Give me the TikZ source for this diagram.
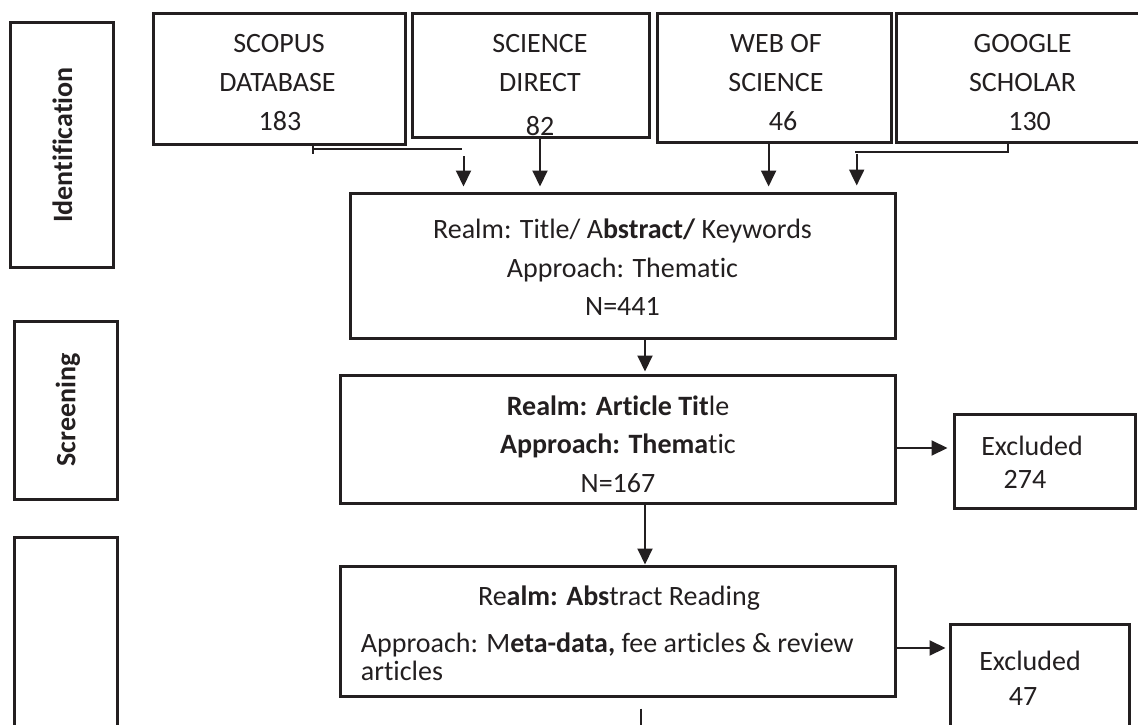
\documentclass[tikz,border=0pt]{standalone}
\usepackage{fontspec}
\setmainfont[Ligatures={NoCommon}]{Carlito}
\usetikzlibrary{arrows.meta}
\definecolor{ink}{RGB}{35,31,32}
\begin{document}
\begin{tikzpicture}[x=1pt,y=-1pt,
  box/.style={draw=ink, line width=3pt, inner sep=0pt},
  txt/.style={anchor=base, inner sep=0pt, text=ink, font=\fontsize{28}{38}\selectfont},
  txtl/.style={anchor=base west, inner sep=0pt, text=ink, font=\fontsize{28}{38}\selectfont},
  lbl/.style={rotate=90, inner sep=0pt, text=ink, font=\fontsize{28}{34}\selectfont\bfseries},
  con/.style={draw=ink, line width=2pt},
  arr/.style={draw=ink, line width=2pt, -{Triangle[width=15pt,length=16pt]}}]
\useasboundingbox (0,0) rectangle (1138,725);
\clip (0,0) rectangle (1138,725);
\fill[white] (0,0) rectangle (1138,725);

% ---- text ----
\node[lbl] (tIdent) at (62.5,145) {Identification};
\node[lbl] (tScreen) at (68,410) {Screening};

\node[txt] (t11) at (279,53) {SCOPUS};
\node[txt] (t12) at (277.5,92) {DATABASE};
\node[txt] (t13) at (280,130) {183};

\node[txt] (t21) at (540,53) {SCIENCE};
\node[txt] (t22) at (540,92) {DIRECT};
\node[txt] (t23) at (540,135) {82};

\node[txt] (t31) at (776,53) {WEB OF};
\node[txt] (t32) at (776,92) {SCIENCE};
\node[txt] (t33) at (783,130) {46};

\node[txt] (t41) at (1022.6,53) {GOOGLE};
\node[txt] (t42) at (1022.6,92) {SCHOLAR};
\node[txt] (t43) at (1029.6,130) {130};

\node[txt] (b1l1) at (622.5,238) {Realm: Title/ A\textbf{bstract/} Keywords};
\node[txt] (b1l2) at (622.5,277) {Approach: Thematic};
\node[txt] (b1l3) at (622.5,315) {N=441};

\node[txt] (b2l1) at (618,415) {\textbf{Realm: Article Tit}le};
\node[txt] (b2l2) at (618,453) {\textbf{Approach: Thema}tic};
\node[txt] (b2l3) at (618,492) {N=167};

\node[txt] (b3l1) at (619,605) {Re\textbf{alm: Abs}tract Reading};
\node[txtl] (b3l2) at (360.7,652) {Approach: M\textbf{eta-data,} fee articles \& review};
\node[txtl] (b3l3) at (360.7,680) {articles};

\node[txt] (e1l1) at (1032,455) {Excluded};
\node[txt] (e1l2) at (1025,488) {274};
\node[txt] (e2l1) at (1030,670) {Excluded};
\node[txt] (e2l2) at (1023,705) {47};

% ---- boxes ----
\node[box, minimum width=103pt, minimum height=244pt] (ident) at (61.5,145) {};
\node[box, minimum width=103pt, minimum height=178pt] (screen) at (65.5,410) {};
\node[box, minimum width=103pt, minimum height=223pt] (elig) at (65.5,648.5) {};

\node[box, minimum width=252pt, minimum height=130pt] (scopus) at (279,79) {};
\node[box, minimum width=237pt, minimum height=123pt] (sd) at (531,75.5) {};
\node[box, minimum width=234pt, minimum height=128pt] (wos) at (774.7,78) {};
\node[box, minimum width=252pt, minimum height=128pt] (gs) at (1022.5,78) {};

\node[box, minimum width=545pt, minimum height=145pt] (b1) at (622.5,265.5) {};
\node[box, minimum width=555pt, minimum height=128pt] (b2) at (617.5,439) {};
\node[box, minimum width=555pt, minimum height=130pt] (b3) at (617.5,631) {};
\node[box, minimum width=181pt, minimum height=94pt] (ex1) at (1044.5,461) {};
\node[box, minimum width=179.5pt, minimum height=136pt] (ex2) at (1039.75,692) {};

% ---- connector coordinates ----
\coordinate (sTick) at (313,154);
\coordinate (sBar) at (462,149);
\coordinate (sArr) at (463.5,156);
\coordinate (xSD) at (540,0);
\coordinate (xW) at (768.6,0);
\coordinate (gTick) at (1008,152);
\coordinate (gBar) at (855,152);
\coordinate (gArr) at (856.7,154);
\coordinate (xMid) at (645,0);
\coordinate (yE1) at (0,448);
\coordinate (yE2) at (0,648);
\coordinate (bot) at (641,740);

% ---- connectors ----
\draw[con] (scopus.south -| sTick) -- (sTick);
\draw[con] (sTick |- sBar) -- (sBar);
\draw[arr, shorten >=5pt] (sArr) -- (b1.north -| sArr);
\draw[arr, shorten >=5pt] (sd.south -| xSD) -- (b1.north -| xSD);
\draw[arr, shorten >=5pt] (wos.south -| xW) -- (b1.north -| xW);
\draw[con] (gs.south -| gTick) -- (gTick) -- (gBar);
\draw[arr, shorten >=6pt] (gArr) -- (b1.north -| gArr);

\draw[arr, shorten >=2pt] (b1.south -| xMid) -- (b2.north -| xMid);
\draw[arr] (b2.south -| xMid) -- (b3.north -| xMid);
\draw[arr, shorten >=5pt] (b2.east |- yE1) -- (ex1.west |- yE1);
\draw[arr, shorten >=3pt] (b3.east |- yE2) -- (ex2.west |- yE2);
\draw[con] (b3.south -| bot) ++(0,11) -- (bot);
\end{tikzpicture}
\end{document}
